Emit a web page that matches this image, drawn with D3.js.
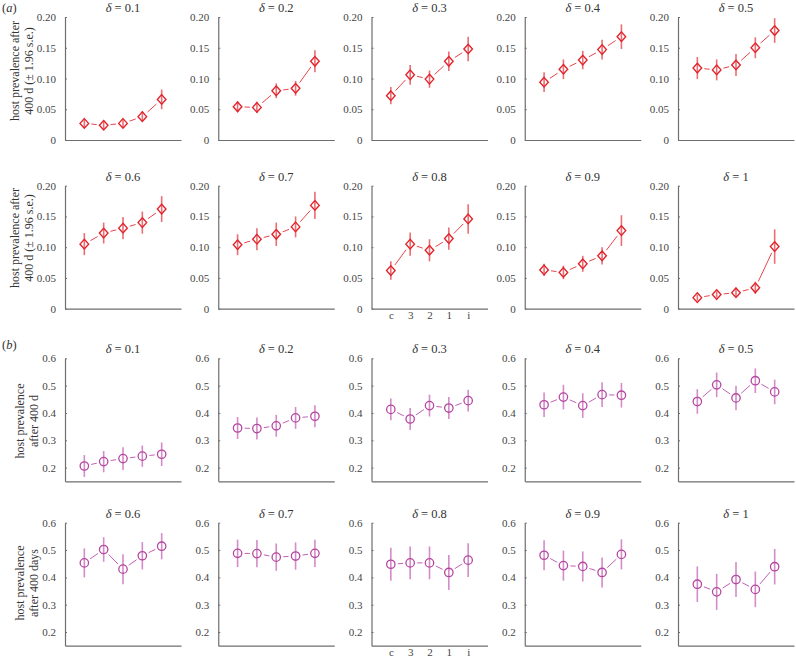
<!DOCTYPE html>
<html>
<head>
<meta charset="utf-8">
<script src="https://cdn.jsdelivr.net/npm/d3@7"></script>
<style>
  html, body { margin: 0; padding: 0; background: #fff; }
  svg { display: block; }
  svg text { font-family: "Liberation Serif", "Times New Roman", Times, "DejaVu Serif", serif !important; }
</style>
</head>
<body>
<svg id="chart" width="796" height="662"></svg>
<script>
// ---------- data ----------
const deltaLabels = ["0.1", "0.2", "0.3", "0.4", "0.5", "0.6", "0.7", "0.8", "0.9", "1"];
const categories = ["c", "3", "2", "1", "i"];

// (a) host prevalence after 400 d, mean and 1.96 s.e.
const prevA = [
  [0.027, 0.024, 0.027, 0.038, 0.066],
  [0.054, 0.053, 0.080, 0.084, 0.128],
  [0.072, 0.106, 0.099, 0.128, 0.148],
  [0.094, 0.115, 0.130, 0.147, 0.168],
  [0.117, 0.114, 0.122, 0.150, 0.178],
  [0.105, 0.123, 0.131, 0.140, 0.162],
  [0.104, 0.113, 0.121, 0.133, 0.168],
  [0.062, 0.105, 0.095, 0.114, 0.146],
  [0.063, 0.059, 0.073, 0.086, 0.127],
  [0.018, 0.023, 0.026, 0.034, 0.101]
];
const errA = [
  [0.006, 0.006, 0.006, 0.008, 0.016],
  [0.009, 0.009, 0.012, 0.012, 0.018],
  [0.014, 0.016, 0.014, 0.016, 0.020],
  [0.016, 0.016, 0.015, 0.016, 0.020],
  [0.018, 0.017, 0.018, 0.017, 0.020],
  [0.018, 0.017, 0.018, 0.018, 0.021],
  [0.017, 0.018, 0.019, 0.017, 0.022],
  [0.015, 0.019, 0.018, 0.018, 0.024],
  [0.010, 0.011, 0.013, 0.014, 0.025],
  [0.005, 0.005, 0.006, 0.010, 0.028]
];

// (b) host prevalence after 400 days
const prevB = [
  [0.206, 0.222, 0.233, 0.242, 0.249],
  [0.345, 0.343, 0.353, 0.382, 0.388],
  [0.413, 0.378, 0.427, 0.418, 0.445],
  [0.430, 0.458, 0.427, 0.467, 0.465],
  [0.442, 0.503, 0.455, 0.518, 0.477],
  [0.453, 0.502, 0.430, 0.479, 0.514],
  [0.488, 0.487, 0.474, 0.478, 0.488],
  [0.448, 0.453, 0.453, 0.418, 0.463],
  [0.481, 0.443, 0.440, 0.418, 0.484],
  [0.375, 0.347, 0.392, 0.356, 0.439]
];
const errB = [
  [0.040, 0.039, 0.042, 0.039, 0.043],
  [0.040, 0.040, 0.040, 0.040, 0.040],
  [0.040, 0.040, 0.040, 0.040, 0.040],
  [0.045, 0.045, 0.045, 0.045, 0.045],
  [0.045, 0.045, 0.045, 0.045, 0.045],
  [0.053, 0.045, 0.055, 0.050, 0.048],
  [0.050, 0.050, 0.050, 0.050, 0.050],
  [0.060, 0.060, 0.060, 0.064, 0.062],
  [0.055, 0.055, 0.055, 0.055, 0.055],
  [0.065, 0.066, 0.064, 0.065, 0.065]
];

const ticksA = [0, 0.05, 0.10, 0.15, 0.20];
const ticksB = [0.2, 0.3, 0.4, 0.5, 0.6];

// ---------- layout ----------
const svg = d3.select("#chart");
const colX = [65, 218.25, 371.5, 524.75, 678];
const plotW = 116, plotH = 123;
const rowTop = [17, 185.7, 358.3, 522.7];

const x = d3.scalePoint().domain(categories).range([0, plotW]).padding(1);

const styles = {
  a: { marker: "#e2262e", err: "#ea6e74", line: "#e6454c", domain: [0, 0.2], ticks: ticksA,
       fmt: d => d === 0 ? "0" : d3.format(".2f")(d) },
  b: { marker: "#b4479f", err: "#d48bc9", line: "#c061b3", domain: [0.15, 0.6], ticks: ticksB,
       fmt: d3.format(".1f") }
};

function panel(g, values, errs, st, showCats, title) {
  const y = d3.scaleLinear().domain(st.domain).range([plotH, 0]);
  const axY = g.append("g")
    .call(d3.axisLeft(y).tickValues(st.ticks).tickFormat(st.fmt).tickSizeInner(-2).tickSizeOuter(0).tickPadding(9));
  const axX = g.append("g").attr("transform", `translate(0,${plotH})`)
    .call(d3.axisBottom(x).tickSize(0).tickPadding(3).tickFormat(showCats ? (d => d) : () => ""));
  [axY, axX].forEach(ax => {
    ax.attr("font-family", null);
    ax.selectAll(".domain").attr("stroke", "#6e6e6e").attr("stroke-width", 1.2);
    ax.selectAll(".tick line").attr("stroke", "#6e6e6e");
    ax.selectAll("text").attr("font-size", 11).attr("fill", "#444");
  });

  // title
  const t = g.append("text").attr("x", plotW / 2).attr("y", -5).attr("text-anchor", "middle")
    .attr("font-size", 12.5).attr("fill", "#333");
  t.append("tspan").attr("font-style", "italic").text("δ");
  t.append("tspan").text(" = " + title);

  const pts = values.map((v, i) => ({ cx: x(categories[i]), cy: y(v), lo: y(v - errs[i]), hi: y(v + errs[i]) }));

  // connecting segments with gaps near the markers
  const gap = 7;
  for (let i = 0; i < pts.length - 1; i++) {
    const p = pts[i], q = pts[i + 1];
    const dx = q.cx - p.cx, dy = q.cy - p.cy, L = Math.hypot(dx, dy);
    if (L <= 2 * gap) continue;
    const ux = dx / L, uy = dy / L;
    g.append("line")
      .attr("x1", p.cx + ux * gap).attr("y1", p.cy + uy * gap)
      .attr("x2", q.cx - ux * gap).attr("y2", q.cy - uy * gap)
      .attr("stroke", st.line).attr("stroke-width", 1);
  }
  // error bars
  g.selectAll(".err").data(pts).enter().append("line")
    .attr("x1", d => d.cx).attr("x2", d => d.cx)
    .attr("y1", d => d.lo).attr("y2", d => d.hi)
    .attr("stroke", st.err).attr("stroke-width", 1.6);
  // markers
  if (st === styles.a) {
    g.selectAll(".mk").data(pts).enter().append("path")
      .attr("d", d => `M${d.cx},${d.cy - 4.8}L${d.cx + 4.3},${d.cy}L${d.cx},${d.cy + 4.8}L${d.cx - 4.3},${d.cy}Z`)
      .attr("fill", "none").attr("stroke", st.marker).attr("stroke-width", 1.4);
  } else {
    g.selectAll(".mk").data(pts).enter().append("circle")
      .attr("cx", d => d.cx).attr("cy", d => d.cy).attr("r", 4.2)
      .attr("fill", "none").attr("stroke", st.marker).attr("stroke-width", 1.3);
  }
}

for (let r = 0; r < 4; r++) {
  const isA = r < 2;
  const st = isA ? styles.a : styles.b;
  for (let c = 0; c < 5; c++) {
    const k = (r % 2) * 5 + c;
    const g = svg.append("g").attr("transform", `translate(${colX[c]},${rowTop[r]})`);
    const vals = isA ? prevA[k] : prevB[k];
    const errs = isA ? errA[k] : errB[k];
    panel(g, vals, errs, st, (r % 2 === 1) && c === 2, deltaLabels[k]);
  }
}

// y-axis labels
const ylabels = [
  { lines: ["host prevalence after", "400 d (± 1.96 s.e.)"], cy: 71, xs: [15, 29] },
  { lines: ["host prevalence after", "400 d (± 1.96 s.e.)"], cy: 238, xs: [15, 29] },
  { lines: ["host prevalence", "after 400 d"], cy: 421, xs: [20, 34] },
  { lines: ["host prevalence", "after 400 days"], cy: 583, xs: [20, 34] }
];
ylabels.forEach(l => {
  l.lines.forEach((s, i) => {
    svg.append("text")
      .attr("transform", `translate(${l.xs[i] + 4},${l.cy}) rotate(-90)`)
      .attr("text-anchor", "middle").attr("font-size", 12).attr("fill", "#333")
      .text(s);
  });
});

// panel letters
[["a", 12], ["b", 349]].forEach(([s, yy]) => {
  const t = svg.append("text").attr("x", 2).attr("y", yy).attr("font-size", 12.5).attr("fill", "#333");
  t.append("tspan").text("(");
  t.append("tspan").attr("font-style", "italic").text(s);
  t.append("tspan").text(")");
});
</script>
</body>
</html>
